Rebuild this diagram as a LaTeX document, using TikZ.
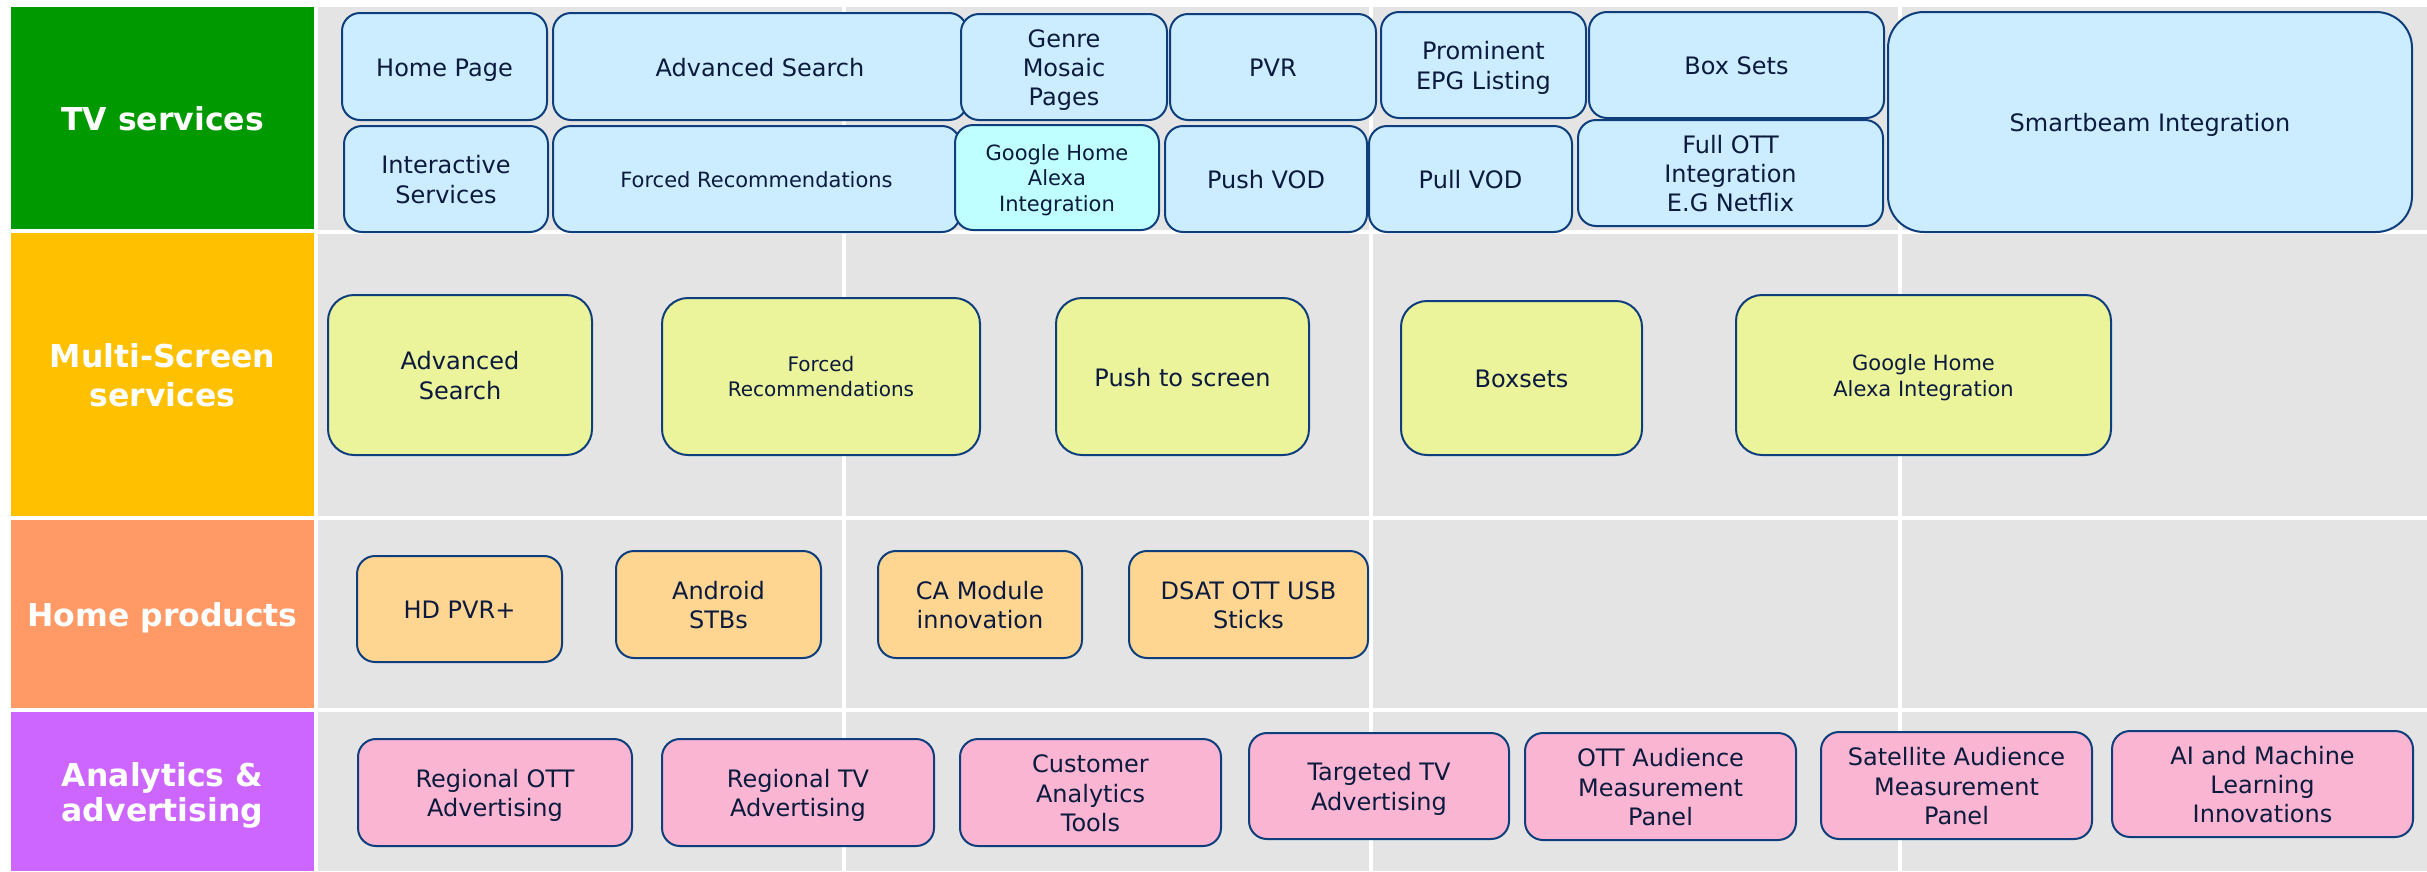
\documentclass[tikz,border=0pt]{standalone}
\usepackage{fontspec}
\setmainfont{DejaVu Sans}
\usepackage{xcolor}
\definecolor{tvgreen}{HTML}{009900}
\definecolor{msyellow}{HTML}{FFC000}
\definecolor{hporange}{HTML}{FF9966}
\definecolor{anpurple}{HTML}{CC66FF}
\definecolor{cellgray}{HTML}{E4E4E4}
\definecolor{tvblue}{HTML}{CCECFF}
\definecolor{tvcyan}{HTML}{BFFFFF}
\definecolor{msfill}{HTML}{EBF39B}
\definecolor{hpfill}{HTML}{FFD592}
\definecolor{anfill}{HTML}{FAB5D3}
\definecolor{boxline}{HTML}{0E3F7C}
\definecolor{boxtext}{HTML}{0B1A3D}

\begin{document}
\begin{tikzpicture}[x=1pt,y=-1pt]
\tikzset{tile/.style={draw=boxline,line width=2pt,align=center,text=boxtext,inner sep=0pt,font=\fontsize{24}{29.2}\selectfont,text height=24.1pt,text depth=5pt}}
\tikzset{twolines/.style={text height=53.3pt}}
\tikzset{threelines/.style={text height=82.5pt}}
\tikzset{tvtile/.style={tile,fill=tvblue,rounded corners=18pt}}
\tikzset{mstile/.style={tile,fill=msfill,rounded corners=26pt}}
\tikzset{hptile/.style={tile,fill=hpfill,rounded corners=18pt}}
\tikzset{antile/.style={tile,fill=anfill,rounded corners=18pt}}
\tikzset{smalltext/.style={font=\fontsize{21}{25.6}\selectfont,text height=21.1pt,text depth=4.4pt}}
\tikzset{header/.style={inner sep=0pt,align=center,text=white,minimum width=303,font=\fontsize{31.5}{39}\selectfont\bfseries,text height=31.7pt,text depth=6.6pt}}

\useasboundingbox (0,0) rectangle (2427,871);

% grey grid behind the tiles
\foreach \xa/\xb in {318/842,846/1369,1373/1898,1902/2427}
  \foreach \ya/\yb in {7/230,234/516,520/708,712/871}
    \fill[cellgray] (\xa,\ya) rectangle (\xb,\yb);

% row headers
\node[header,fill=tvgreen,minimum height=222] (tvhead) at (162.5,118) {TV services};
\node[header,text height=70.7pt,fill=msyellow,minimum height=283] (mshead) at (162.5,374.5) {Multi-Screen\\services};
\node[header,fill=hporange,minimum height=188] (hphead) at (162.5,614) {Home products};
\node[header,font=\fontsize{31.5}{35.5}\selectfont\bfseries,text height=67.2pt,fill=anpurple,minimum height=159] (anhead) at (162.5,791.5) {Analytics \&\\advertising};

% TV services
\node[tvtile,minimum width=205,minimum height=107] (homepage) at (444.5,66.5) {Home Page};
\node[tvtile,minimum width=414,minimum height=107] (advsearch) at (760,66.5) {Advanced Search};
\node[tvtile,threelines,minimum width=206,minimum height=106] (genre) at (1064,67) {Genre\\Mosaic\\Pages};
\node[tvtile,minimum width=206,minimum height=106] (pvr) at (1273,67) {PVR};
\node[tvtile,twolines,minimum width=205,minimum height=106] (epg) at (1483.5,65) {Prominent\\EPG Listing};
\node[tvtile,minimum width=295,minimum height=106] (boxsets) at (1736.5,65) {Box Sets};
\node[tvtile,rounded corners=36pt,minimum width=524,minimum height=220] (smartbeam) at (2150,122) {Smartbeam Integration};
\node[tvtile,twolines,minimum width=204,minimum height=106] (interactive) at (446,179) {Interactive\\Services};
\node[tvtile,smalltext,minimum width=407,minimum height=106] (forcedrec) at (756.5,179) {Forced Recommendations};
\node[tvtile,smalltext,text height=72.3pt,fill=tvcyan,minimum width=204,minimum height=105] (googlehome) at (1057,177.5) {Google Home\\Alexa\\Integration};
\node[tvtile,minimum width=202,minimum height=106] (pushvod) at (1266,179) {Push VOD};
\node[tvtile,minimum width=203,minimum height=106] (pullvod) at (1470.5,179) {Pull VOD};
\node[tvtile,threelines,minimum width=305,minimum height=106] (fullott) at (1730.5,173) {Full OTT\\Integration\\E.G Netflix};

% Multi-Screen services
\node[mstile,twolines,minimum width=264,minimum height=160] (msadvsearch) at (460,375) {Advanced\\Search};
\node[mstile,font=\fontsize{20}{25}\selectfont,text height=45.1pt,text depth=4.2pt,minimum width=318,minimum height=157] (msforcedrec) at (821,376.5) {Forced\\Recommendations};
\node[mstile,minimum width=253,minimum height=157] (mspush) at (1182.5,376.5) {Push to screen};
\node[mstile,minimum width=241,minimum height=154] (msboxsets) at (1521.5,378) {Boxsets};
\node[mstile,smalltext,text height=46.7pt,minimum width=375,minimum height=160] (msgoogle) at (1923.5,375) {Google Home\\Alexa Integration};

% Home products
\node[hptile,minimum width=205,minimum height=106] (hdpvr) at (459.5,609) {HD PVR+};
\node[hptile,twolines,minimum width=205,minimum height=107] (android) at (718.5,604.5) {Android\\STBs};
\node[hptile,twolines,minimum width=204,minimum height=107] (camodule) at (980,604.5) {CA Module\\innovation};
\node[hptile,twolines,minimum width=239,minimum height=107] (dsat) at (1248.5,604.5) {DSAT OTT USB\\Sticks};

% Analytics & advertising
\node[antile,twolines,minimum width=274,minimum height=107] (regott) at (495,792.5) {Regional OTT\\Advertising};
\node[antile,twolines,minimum width=272,minimum height=107] (regtv) at (798,792.5) {Regional TV\\Advertising};
\node[antile,threelines,minimum width=261,minimum height=107] (custtools) at (1090.5,792.5) {Customer\\Analytics\\Tools};
\node[antile,twolines,minimum width=260,minimum height=106] (targeted) at (1379,786) {Targeted TV\\Advertising};
\node[antile,threelines,minimum width=271,minimum height=107] (ottpanel) at (1660.5,786.5) {OTT Audience\\Measurement\\Panel};
\node[antile,threelines,minimum width=271,minimum height=107] (satpanel) at (1956.5,785.5) {Satellite Audience\\Measurement\\Panel};
\node[antile,threelines,minimum width=301,minimum height=106] (aiml) at (2262.5,784) {AI and Machine\\Learning\\Innovations};

\end{tikzpicture}
\end{document}
